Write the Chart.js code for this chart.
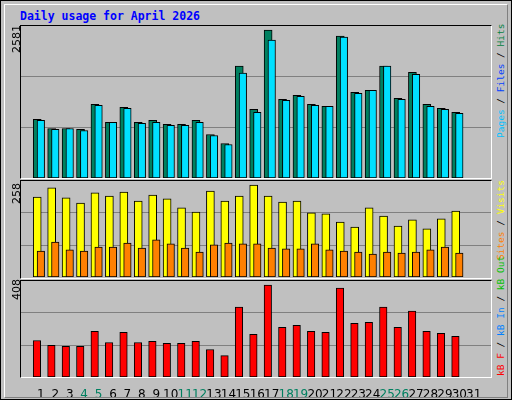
<!DOCTYPE html>
<html><head><meta charset="utf-8">
<script src="https://cdn.jsdelivr.net/npm/chart.js@4/dist/chart.umd.min.js"></script>
<style>
body{margin:0;background:#fff}
#frame{position:absolute;left:0;top:0;width:510px;height:398px;background:#c0c0c0;border:1px solid #000}
#bevel{position:absolute;left:3px;top:3px;width:502px;height:392px;border-left:1px solid #fff;border-top:1px solid #fff;border-right:1px solid #808080;border-bottom:1px solid #808080}
.p{position:absolute;left:20px;width:470px}
.box{position:absolute;left:19px;width:470px;border-top:1px solid #000;border-left:1px solid #000;border-right:1px solid #fff;border-bottom:1px solid #fff}
.t{position:absolute;font-family:"DejaVu Sans Mono",monospace;font-weight:bold;font-size:11.5px;color:#0000ff}
.yl{position:absolute;font-family:"DejaVu Sans",sans-serif;font-size:11px;color:#000;transform-origin:0 0;transform:rotate(-90deg);white-space:nowrap}
.rl{position:absolute;font-family:"DejaVu Sans Mono",monospace;font-size:9.5px;transform-origin:0 0;transform:rotate(-90deg);white-space:nowrap;text-align:right}
</style></head><body>
<div id="frame"><div id="bevel"></div>
<div class="t" style="left:19px;top:8px">Daily usage for April 2026</div>
<div class="box" style="top:24px;height:152px"></div>
<div class="box" style="top:179px;height:97px"></div>
<div class="box" style="top:279px;height:96px"></div>
<div class="p" style="top:25px;height:152px"><canvas id="c1"></canvas></div>
<div class="p" style="top:180px;height:96px"><canvas id="c2"></canvas></div>
<div class="p" style="top:280px;height:116px"><canvas id="c3"></canvas></div>
<div class="yl" style="left:9px;top:52px">2581</div>
<div class="yl" style="left:9px;top:203px">258</div>
<div class="yl" style="left:9px;top:299px">408</div>
<div class="rl" style="left:494px;top:137px;width:112px"><span style="color:#00c0ff">Pages</span><span style="color:#000"> / </span><span style="color:#0040ff">Files</span><span style="color:#000"> / </span><span style="color:#008040">Hits</span></div>
<div class="rl" style="left:494px;top:275px;width:96px"><span style="color:#ff8000">Sites</span><span style="color:#000"> / </span><span style="color:#ffff00">Visits</span></div>
<div class="rl" style="left:494px;top:375px;width:98px"><span style="color:#ff0000">kB F</span><span style="color:#000"> / </span><span style="color:#0080ff">kB In</span><span style="color:#000"> / </span><span style="color:#00c000">kB Out</span></div>
</div>
<script>
const days = Array.from({length:31},(_,i)=>i+1);
const weekendDays = [4,5,11,12,18,19,25,26];
const hits = [1022,864,864,847,1285,969,1232,969,1004,934,934,1004,759,602,1951,1197,2581,1372,1442,1285,1250,2476,1495,1530,1951,1390,1845,1285,1215,1145];
const files = [1004,847,864,829,1267,969,1215,952,969,917,917,969,742,584,1828,1145,2406,1355,1425,1267,1250,2459,1477,1530,1951,1372,1810,1250,1197,1127];
const visits = [224,250,222,207,236,227,238,213,230,219,194,182,241,213,227,258,227,210,213,180,177,154,140,194,171,143,160,135,163,185];
const sites = [73,98,76,73,84,84,95,81,104,93,81,70,90,95,93,93,81,79,79,93,76,73,70,64,70,67,70,76,84,67];
const kbytes = [162,140,136,136,203,153,198,153,158,149,149,158,122,95,310,189,408,220,229,203,198,395,238,243,310,220,292,203,194,180];

const pts=(arr,off)=>arr.map((v,i)=>({x:i+1+off,y:v}));
function ds(arr,off,color,w,order){return{data:pts(arr,off),backgroundColor:color,borderColor:'#000',borderWidth:1,barThickness:w,grouped:false,order:order,borderSkipped:false};}
function opts(max,showX){
 const x={type:'linear',min:0.15,max:31.67,display:showX,grid:{display:false},border:{display:false},
      afterBuildTicks:s=>{s.ticks=days.map(d=>({value:d}));},
      ticks:{padding:3,maxRotation:0,minRotation:0,autoSkip:false,font:{family:'DejaVu Sans',size:12},color:c=>weekendDays.includes(c.tick.value)?'#008060':'#000',callback:v=>v}};
 if(showX) x.afterFit=s=>{s.height=20;};
 return{responsive:true,maintainAspectRatio:false,animation:false,
  layout:{padding:0},
  plugins:{legend:{display:false},tooltip:{enabled:false}},
  scales:{x:x,
   y:{min:0,max:max,display:true,ticks:{display:false,stepSize:max/3},afterFit:s=>{s.width=0;},grid:{color:'#808080',drawTicks:false,lineWidth:c=>(c.tick.value>0&&c.tick.value<max-1)?1:0},border:{display:false}}
  }};
}
new Chart(document.getElementById('c1'),{type:'bar',data:{datasets:[ds(files,0,'#00e0ff',7.5,0),ds(hits,-0.25,'#008060',8,1)]},options:opts(2651,false)});
new Chart(document.getElementById('c2'),{type:'bar',data:{datasets:[ds(sites,0,'#ff8000',7.5,0),ds(visits,-0.25,'#ffff00',8,1)]},options:opts(269.2,false)});
new Chart(document.getElementById('c3'),{type:'bar',data:{datasets:[ds(kbytes,-0.27,'#ff0000',7.5,0)]},options:opts(425.9,true)});
</script></body></html>
